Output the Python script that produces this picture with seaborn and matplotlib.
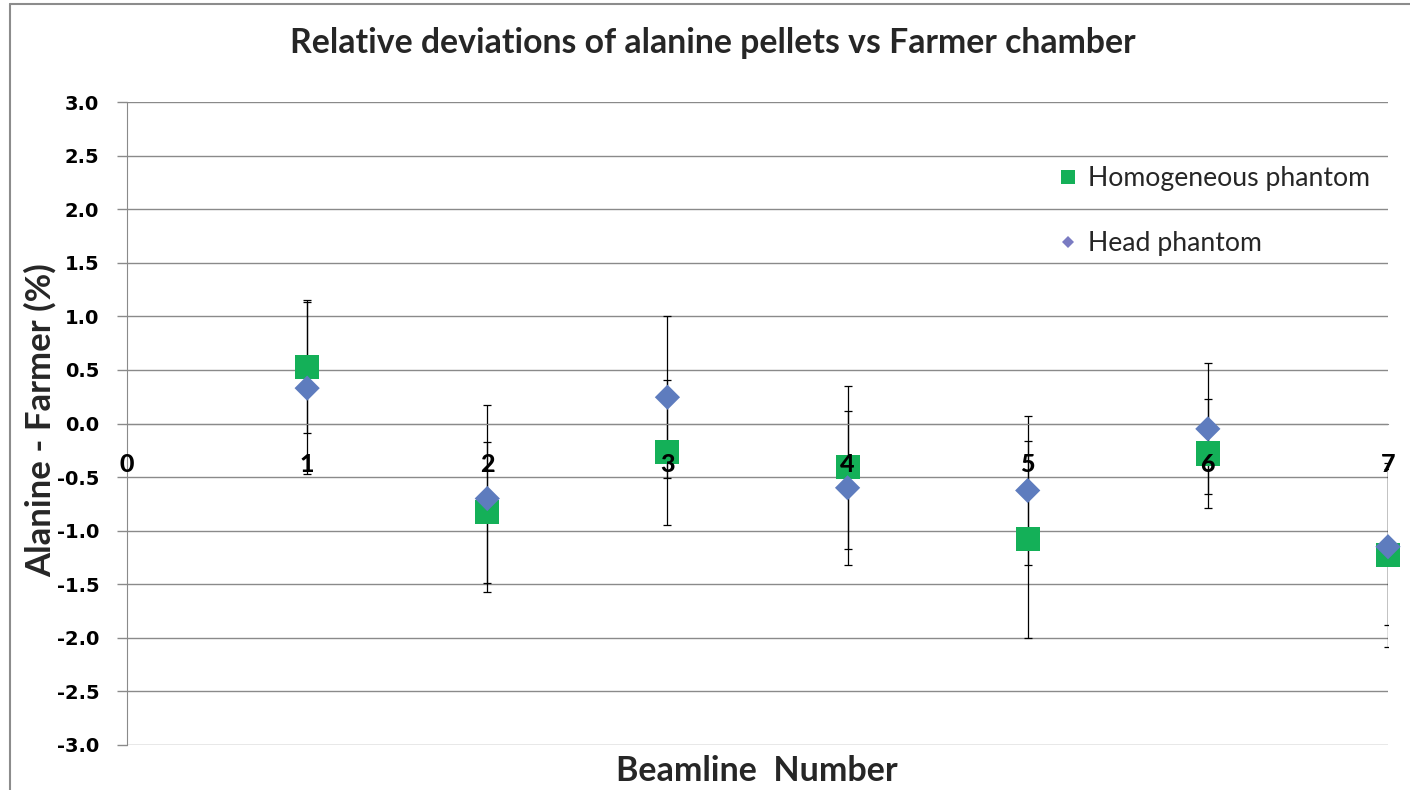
import numpy as np
import pandas as pd
import matplotlib
matplotlib.use("Agg")
import matplotlib.pyplot as plt
import seaborn as sns
from matplotlib.lines import Line2D

# ---- data ----
beamlines = [1, 2, 3, 4, 5, 6, 7]
homogeneous = [0.53, -0.83, -0.27, -0.41, -1.08, -0.28, -1.23]
homogeneous_err = [0.62, 0.655, 0.68, 0.76, 0.92, 0.505, 0.86]
head = [0.33, -0.70, 0.245, -0.60, -0.625, -0.05, -1.15]
head_err = [0.80, 0.87, 0.755, 0.72, 0.695, 0.61, 0.73]
series_names = ["Homogeneous phantom", "Head phantom"]
x_ticks = [0, 1, 2, 3, 4, 5, 6, 7]
y_ticks = [3.0, 2.5, 2.0, 1.5, 1.0, 0.5, 0.0, -0.5, -1.0, -1.5, -2.0, -2.5, -3.0]

title = "Relative deviations of alanine pellets vs Farmer chamber"
xlabel = "Beamline  Number"
ylabel = "Alanine - Farmer (%)"

colors = {"Homogeneous phantom": "#14B058", "Head phantom": "#5E7CBE"}
markers = {"Homogeneous phantom": "s", "Head phantom": "D"}

df = pd.DataFrame({
    "Beamline": beamlines + beamlines,
    "Deviation": homogeneous + head,
    "Series": [series_names[0]] * len(beamlines) + [series_names[1]] * len(beamlines),
})

sns.set_style("white")
plt.rcParams['font.family'] = ['Lato', 'DejaVu Sans']
plt.rcParams['font.weight'] = 'bold'

W, H = 1410, 790
fig = plt.figure(figsize=(W / 100, H / 100), dpi=100)
ax = fig.add_axes([127 / W, 45 / H, 1261 / W, 643 / H])

# axis frame first (moving a spine resets tick styling)
for s in ['top', 'right']:
    ax.spines[s].set_visible(False)
ax.spines['left'].set_color('#8a8a8a')
ax.spines['bottom'].set_position(('data', 0))
ax.spines['bottom'].set_color('#8a8a8a')
ax.tick_params(axis='y', left=True, direction='out', length=7, width=1,
               color='#8a8a8a', pad=13, labelcolor='black')
ax.tick_params(axis='x', bottom=False, length=0, pad=21, labelcolor='black',
               labelsize=18)

# error bars
ax.errorbar(beamlines, homogeneous, yerr=homogeneous_err, fmt='none', ecolor='black',
            elinewidth=0.9, capsize=3, capthick=0.9, zorder=2)
ax.errorbar(beamlines, head, yerr=head_err, fmt='none', ecolor='black',
            elinewidth=0.9, capsize=3, capthick=0.9, zorder=2)

# markers
sns.scatterplot(data=df, x="Beamline", y="Deviation", hue="Series", style="Series",
                palette=colors, markers=markers, size="Series",
                sizes={"Homogeneous phantom": 300, "Head phantom": 165},
                linewidth=0, ax=ax, legend=False, zorder=3, clip_on=False)

ax.set_xlim(0, 7)
ax.set_ylim(-3, 3)
ax.set_yticks(y_ticks)
ax.set_yticklabels([f"{v:.1f}" for v in y_ticks], fontfamily='DejaVu Sans',
                   fontweight='bold', fontsize=14)
ax.set_xticks(x_ticks)
ax.set_xticklabels([str(v) for v in x_ticks], fontweight='black', fontsize=18)

ax.yaxis.grid(True, color='#8a8a8a', linewidth=1)
ax.xaxis.grid(False)
ax.set_axisbelow(True)
ax.xaxis.set_zorder(5)   # beamline numbers drawn over the markers

ax.set_xlabel(xlabel, fontsize=24.5, fontweight='bold', va='center')
ax.xaxis.set_label_coords((757 - 127) / 1261, (745 - 771) / 643)
ax.set_ylabel(ylabel, fontsize=25, fontweight='bold', va='center')
ax.yaxis.set_label_coords((40 - 127) / 1261, (745 - 420) / 643)

fig.text(713 / W, 1 - 43 / H, title, ha='center', va='center', fontsize=24.3,
         fontweight='bold')

handles = [Line2D([], [], linestyle='none', marker='s', markersize=10,
                  markerfacecolor=colors[series_names[0]], markeredgewidth=0),
           Line2D([], [], linestyle='none', marker='D', markersize=6.5,
                  markerfacecolor='#7A7BC2', markeredgewidth=0)]
ax.legend(handles, series_names, frameon=False, loc='center left',
          bbox_to_anchor=((1057 - 127) / 1261, (745 - 211) / 643),
          prop={'family': ['Lato', 'DejaVu Sans'], 'weight': 'normal', 'size': 19.2},
          labelspacing=1.5, handlelength=0.8, handletextpad=0.35,
          borderpad=0, borderaxespad=0)

# outer chart border (left and top visible)
fig.add_artist(Line2D([10 / W, 10 / W], [0, 1 - 4 / H], transform=fig.transFigure,
                      color='#8c8c8c', linewidth=1.5))
fig.add_artist(Line2D([10 / W, 1], [1 - 4 / H, 1 - 4 / H], transform=fig.transFigure,
                      color='#8c8c8c', linewidth=1.5))

fig.savefig("out.png", dpi=100, facecolor='white')
